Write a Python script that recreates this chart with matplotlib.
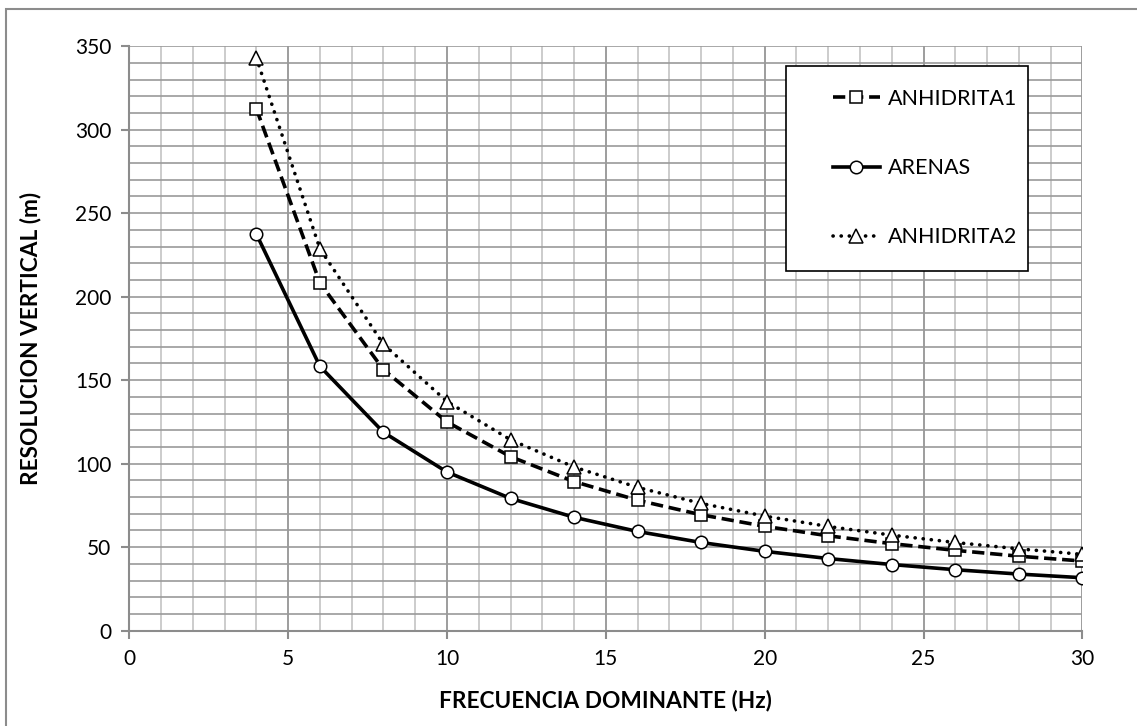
import matplotlib
matplotlib.use('Agg')
import matplotlib.pyplot as plt
from matplotlib.patches import Rectangle
import numpy as np

plt.rcParams['font.family'] = ['Lato', 'DejaVu Sans']

# Data
freq = [4, 6, 8, 10, 12, 14, 16, 18, 20, 22, 24, 26, 28, 30]
anhidrita1 = [312.5, 208.3, 156.3, 125.0, 104.2, 89.3, 78.1, 69.4, 62.5,
              56.8, 52.1, 48.1, 44.6, 41.7]
arenas = [237.5, 158.3, 118.8, 95.0, 79.2, 67.9, 59.4, 52.8, 47.5,
          43.2, 39.6, 36.5, 33.9, 31.7]
anhidrita2 = [343.0, 228.7, 171.5, 137.2, 114.3, 98.0, 85.8, 76.2, 68.6,
              62.4, 57.2, 52.8, 49.0, 45.7]

x_label = 'FRECUENCIA DOMINANTE (Hz)'
y_label = 'RESOLUCION VERTICAL (m)'

fig = plt.figure(figsize=(11.37, 7.26), dpi=100)
ax = fig.add_axes([0.1137, 0.1313, 0.8383, 0.8051])

# grid: light minor verticals, darker major verticals, medium horizontals
for xv in range(0, 31):
    if xv % 5 == 0:
        ax.axvline(xv, color='#8c8c8c', lw=1.2, zorder=0)
    else:
        ax.axvline(xv, color='#c4c4c4', lw=1.2, zorder=0)
for yv in range(10, 351, 10):
    ax.axhline(yv, color='#9a9a9a', lw=1.2, zorder=0)

lw = 2.6
ax.plot(freq, anhidrita1, color='black', lw=lw, ls=(0, (3.4, 1.6)),
        marker='s', ms=9, mfc='white', mec='black', mew=1.1,
        label='ANHIDRITA1', zorder=3)
ax.plot(freq, arenas, color='black', lw=lw, ls='-',
        marker='o', ms=9, mfc='white', mec='black', mew=1.1,
        label='ARENAS', zorder=3)
ax.plot(freq, anhidrita2, color='black', lw=lw, ls=(0, (0.05, 2.2)),
        dash_capstyle='round', marker='^', ms=9.5, mfc='white', mec='black',
        mew=1.1, label='ANHIDRITA2', zorder=3)

ax.set_xlim(0, 30)
ax.set_ylim(0, 350)
ax.set_xticks(np.arange(0, 31, 5))
ax.set_yticks(np.arange(0, 351, 50))

for s in ['top', 'right']:
    ax.spines[s].set_visible(False)
for s in ['left', 'bottom']:
    ax.spines[s].set_color('#8c8c8c')
    ax.spines[s].set_linewidth(1.5)
ax.tick_params(axis='both', direction='out', length=6, width=1.5,
               color='#8c8c8c', labelsize=15, pad=7)

ax.set_xlabel(x_label, fontsize=16.3, fontweight='bold', labelpad=15)
ax.set_ylabel(y_label, fontsize=16.3, fontweight='bold', labelpad=24)

# legend box drawn separately so the padding can be uneven like the original
ax.add_patch(Rectangle((0.689, 0.6145), 0.2538, 0.3521, transform=ax.transAxes,
                       facecolor='white', edgecolor='black', lw=1.2,
                       zorder=4))
leg = ax.legend(loc='upper left', bbox_to_anchor=(0.738, 0.927),
                fontsize=15.5, frameon=False, handlelength=2.2,
                handletextpad=0.37, labelspacing=2.29, borderpad=0,
                borderaxespad=0)
leg.set_zorder(5)

# outer chart border
fig.patches.append(Rectangle((6 / 1137, -0.1), 1.2, 1.1 - 8.5 / 726,
                             transform=fig.transFigure, fill=False,
                             edgecolor='#8c8c8c', lw=1.5))

fig.savefig('out.png', dpi=100)
